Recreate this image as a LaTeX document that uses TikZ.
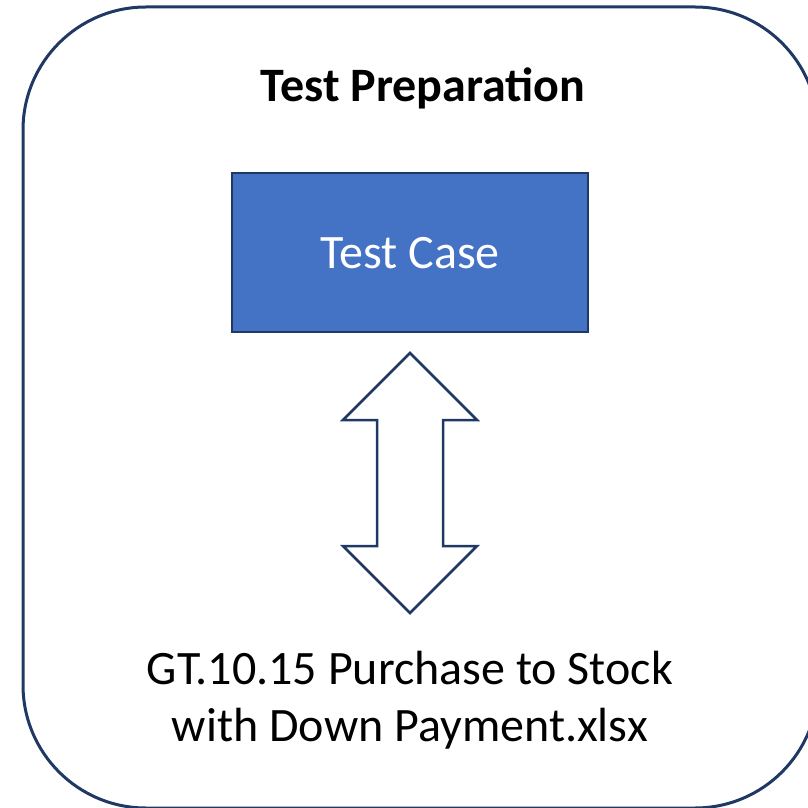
\documentclass[tikz,border=0pt]{standalone}
\usepackage{fontspec}
\setmainfont{Carlito}
\definecolor{navy}{HTML}{1F3864}
\definecolor{boxblue}{HTML}{4472C4}
\definecolor{boxedge}{HTML}{203864}
\begin{document}
\begin{tikzpicture}[x=1pt,y=1pt,
  frame/.style={draw=navy, line width=3pt, rounded corners=123pt},
  casebox/.style={draw=boxedge, fill=boxblue, line width=2pt, minimum width=356pt, minimum height=159pt, inner sep=0pt,
    text=white, font=\fontsize{48}{57}\selectfont},
  title/.style={font=\fontsize{48}{57}\selectfont\bfseries, anchor=base},
  filetext/.style={font=\fontsize{48}{57}\selectfont, align=center, anchor=base},
  bigarrow/.style={draw=navy, line width=2.5pt, fill=white, line join=miter}]
\useasboundingbox (0,0) rectangle (808,807);
\clip (0,0) rectangle (808,807);
\draw[frame] (23,800) rectangle (818,-1);
\node[title] (title) at (423,705) {Test Preparation};
\node[casebox] (case) at (410,554) {Test Case};
\draw[bigarrow] (410,454) -- (477,387) -- (443,387) -- (443,261) -- (477,261) -- (410,194)
  -- (343,261) -- (377,261) -- (377,387) -- (343,387) -- cycle;
\node[filetext] (file) at (410,65.5) {GT.10.15 Purchase to Stock\\with Down Payment.xlsx};
\end{tikzpicture}
\end{document}
